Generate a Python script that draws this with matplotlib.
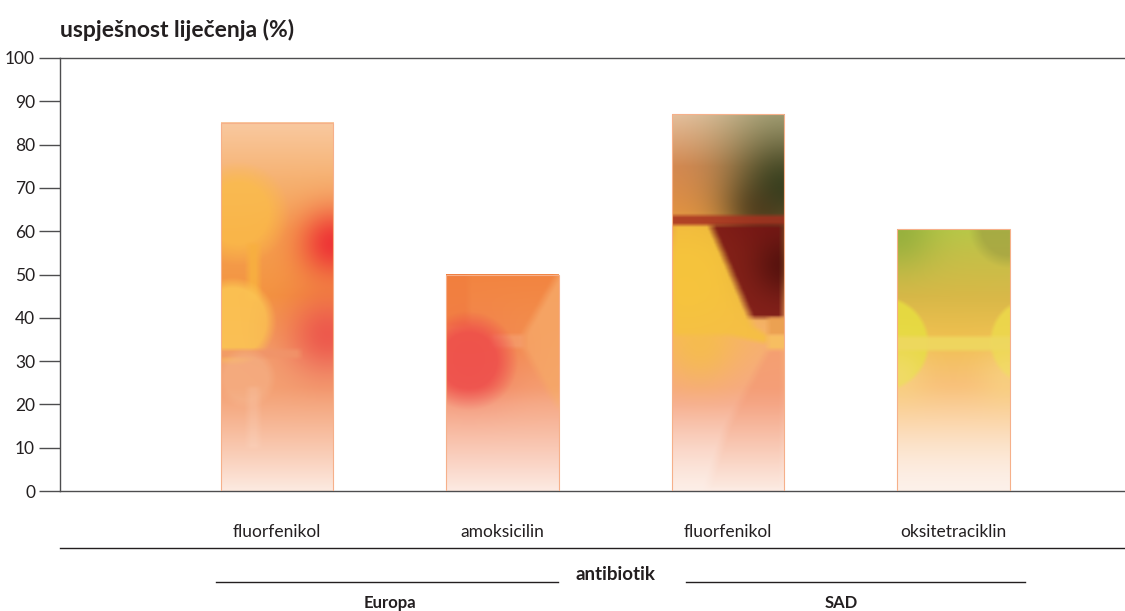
import numpy as np
import matplotlib
matplotlib.use('Agg')
import matplotlib.pyplot as plt
from matplotlib.colors import to_rgb
from matplotlib.path import Path
import matplotlib.transforms as mtransforms

plt.rcParams['font.family'] = ['Lato', 'DejaVu Sans']

antibiotici = ['fluorfenikol', 'amoksicilin', 'fluorfenikol', 'oksitetraciklin']
regije = ['Europa', 'Europa', 'SAD', 'SAD']
uspjesnost = [85, 50, 87, 60.5]

TXT = '#231f20'
AXC = '#4d4d4f'
BAR_W = 0.5
W_UNITS = 26.0   # bar width in y units, keeps the blobs round


def soften(w, n=3):
    # small box blur so the shapes get soft edges
    k = np.ones(2 * n + 1) / (2 * n + 1)
    w = np.apply_along_axis(lambda r: np.convolve(np.pad(r, n, mode='edge'), k, 'valid'), 0, w)
    w = np.apply_along_axis(lambda r: np.convolve(np.pad(r, n, mode='edge'), k, 'valid'), 1, w)
    return w


def paint(h, base, layers, fade='#fdf2ec', fade_top=24):
    ny = max(int(h * 5), 10)
    xs = np.linspace(0, 1, 80)
    ys = np.linspace(0, h, ny)
    X, Y = np.meshgrid(xs, ys)
    pos = [p for p, _ in base]
    cols = np.array([to_rgb(c) for _, c in base])
    img = np.stack([np.interp(Y, pos, cols[:, k]) for k in range(3)], -1)
    for lay in layers:
        kind, col = lay[0], np.array(to_rgb(lay[1]))
        if kind == 'g':      # soft glow
            cx, cy, r, a = lay[2:]
            d2 = ((X - cx) * W_UNITS) ** 2 + (Y - cy) ** 2
            w = a * np.exp(-d2 / (2 * r * r))
        elif kind == 'c':    # disc with soft rim
            cx, cy, r, a, s = lay[2:]
            d = np.sqrt(((X - cx) * W_UNITS) ** 2 + (Y - cy) ** 2)
            w = a * np.clip((r - d) / s + 0.5, 0, 1)
        elif kind == 'r':    # band
            x0, x1, y0, y1, a = lay[2:]
            w = soften(a * ((X >= x0) & (X <= x1) & (Y >= y0) & (Y <= y1)), 2)
        else:                # polygon
            pts, a = lay[2:]
            inside = Path(np.array(pts)).contains_points(np.c_[X.ravel(), Y.ravel()])
            w = soften(a * inside.reshape(X.shape).astype(float), 3)
        img = img * (1 - w[..., None]) + col * w[..., None]
    t = np.clip(1 - Y / fade_top, 0, 1) ** 1.2 * 0.9
    img = img * (1 - t[..., None]) + np.array(to_rgb(fade)) * t[..., None]
    return np.clip(img, 0, 1)


looks = [
    dict(base=[(0, '#f6a47e'), (30, '#f3a070'), (45, '#f39441'), (60, '#f5a050'),
               (72, '#f6b272'), (85, '#f9c9a0')],
         layers=[('c', '#fbbd48', 0.15, 64, 9.5, 0.75, 5),
                 ('r', '#f8b040', 0.24, 0.34, 44, 57, 0.9),
                 ('g', '#ee3135', 1.0, 57, 5.5, 0.95),
                 ('c', '#fbc453', 0.1, 39, 9, 0.9, 2.5),
                 ('g', '#ec4f4a', 0.95, 36, 6.5, 0.85),
                 ('r', '#f0946a', 0.0, 0.7, 30.5, 32.5, 0.8),
                 ('c', '#f5b48a', 0.22, 26, 6, 0.5, 2),
                 ('r', '#f8c0a0', 0.24, 0.34, 10, 24, 0.35)]),
    dict(base=[(0, '#f6a48a'), (20, '#f5a27c'), (35, '#f39050'), (50, '#f28440')],
         layers=[('r', '#f07a3c', 0.0, 0.2, 38, 50, 0.5),
                 ('p', '#f6a868', [(1.0, 50), (0.69, 36), (0.69, 33), (1.0, 19)], 0.85),
                 ('r', '#f6aa78', 0.4, 0.69, 33, 36, 0.6),
                 ('c', '#ee4a4a', 0.2, 30, 9, 0.8, 5),
                 ('g', '#ee4a4a', 0.2, 29, 7, 0.4)]),
    dict(base=[(0, '#f9d0c0'), (20, '#f6a888'), (35, '#f7b070'), (55, '#f2b84a'),
               (65, '#e08c44'), (75, '#d88850'), (87, '#eac2a0')],
         layers=[('g', '#9aa070', 1.0, 86, 12, 0.7),
                 ('g', '#34401f', 1.0, 70, 9, 0.95),
                 ('g', '#3a2a14', 0.75, 64, 5, 0.6),
                 ('p', '#f5c23c', [(0, 61.5), (0.34, 61.5), (0.72, 38), (0.85, 36),
                                   (0.85, 34), (0.5, 36), (0, 36)], 0.8),
                 ('g', '#f5be48', 0.25, 33, 6, 0.7),
                 ('g', '#f7c73a', 0.15, 48, 9, 0.6),
                 ('r', '#a83220', 0.0, 1.0, 61.5, 63.7, 0.85),
                 ('p', '#7a1414', [(0.34, 61.5), (1.0, 61.5), (1.0, 40), (0.7, 40)], 0.92),
                 ('g', '#3c0a08', 1.0, 52, 5, 0.6),
                 ('r', '#eba050', 0.85, 1.0, 36, 40, 0.9),
                 ('r', '#f8c060', 0.85, 1.0, 32.5, 36, 0.9),
                 ('p', '#f39670', [(0.85, 32.5), (1, 32.5), (1, 0), (0.3, 0), (0.49, 15)], 0.6)]),
    dict(base=[(0, '#fbe6d8'), (15, '#fbcf9a'), (25, '#f8c078'), (35, '#f0c050'),
               (45, '#d8b848'), (55, '#c4c048'), (60.5, '#b8c848')],
         layers=[('g', '#8aa83a', 0.0, 60, 6, 0.7),
                 ('c', '#9a9a40', 1.0, 61, 8, 0.6, 3),
                 ('c', '#e6dc40', -0.14, 34, 10.7, 0.9, 1),
                 ('c', '#ecd84a', 1.22, 34.5, 10, 0.9, 1),
                 ('g', '#f8dc88', 0.0, 26, 5, 0.5),
                 ('g', '#f8dc88', 1.0, 26, 5, 0.5),
                 ('r', '#eed860', 0.0, 1.0, 32.4, 35.7, 0.9)]),
]

fig = plt.figure(figsize=(11.25, 6.11), dpi=100)
ax = fig.add_axes([60 / 1125, 120 / 611, 1 - 60 / 1125, 433 / 611])

x = np.arange(len(uspjesnost))
for xi, v, lk in zip(x, uspjesnost, looks):
    img = paint(v, lk['base'], lk['layers'])
    ax.imshow(img, origin='lower', extent=(xi - BAR_W / 2, xi + BAR_W / 2, 0, v),
              aspect='auto', interpolation='bilinear', zorder=2)
ax.bar(x, uspjesnost, BAR_W, fill=False, edgecolor='#f6b08a', linewidth=0.8, zorder=3)

ax.set_xlim(-0.962, 3.76)
ax.set_ylim(0, 100)
ax.set_aspect('auto')
ax.set_yticks(range(0, 101, 10))
ax.tick_params(axis='y', length=15, width=1, color=AXC, labelsize=12.5, labelcolor=TXT, pad=3)
ax.set_xticks(x)
ax.set_xticklabels(antibiotici)
ax.tick_params(axis='x', length=0, labelsize=12.5, labelcolor=TXT, pad=24)
for s in ['left', 'bottom', 'top']:
    ax.spines[s].set_color(AXC)
    ax.spines[s].set_linewidth(1)
ax.spines['right'].set_visible(False)

fig.text(60 / 1125, 1 - 30 / 611, 'uspješnost liječenja (%)', fontsize=16.5,
         fontweight='bold', color=TXT, va='center', ha='left')

# grouping lines and labels under the categories
tr = mtransforms.blended_transform_factory(ax.transData, ax.transAxes)
ax.plot([0, 1], [-0.1316, -0.1316], transform=ax.transAxes, color=TXT, lw=1, clip_on=False)
ax.text(1.5, -0.192, 'antibiotik', transform=tr, ha='center', va='center',
        fontsize=13.5, fontweight='bold', color=TXT)
ax.plot([-0.27, 1.246], [-0.21, -0.21], transform=tr, color=TXT, lw=1, clip_on=False)
ax.plot([1.814, 3.317], [-0.21, -0.21], transform=tr, color=TXT, lw=1, clip_on=False)
for grp in ['Europa', 'SAD']:
    pos = np.mean([xi for xi, g in zip(x, regije) if g == grp])
    ax.text(pos, -0.259, grp, transform=tr, ha='center', va='center',
            fontsize=12, fontweight='bold', color=TXT)

fig.savefig('out.png', dpi=100)
